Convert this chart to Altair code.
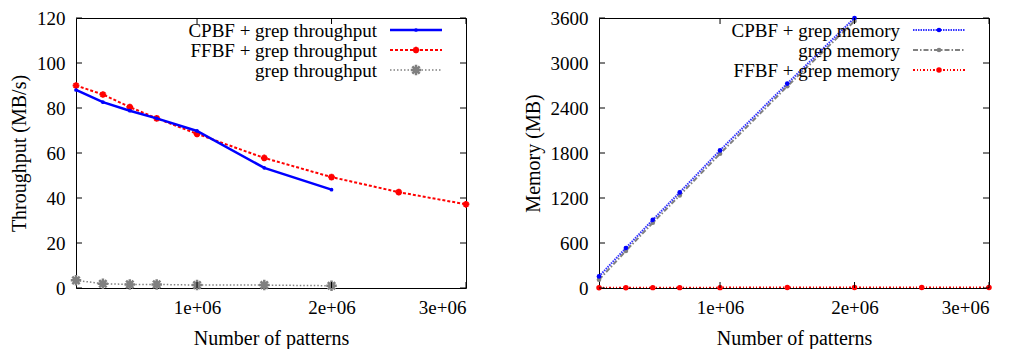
import altair as alt
import pandas as pd

# ---------------- data ----------------
patterns = [100000, 300000, 500000, 700000, 1000000, 1500000, 2000000, 2500000, 3000000]

cpbf_tp = [88.0, 82.6, 78.8, 75.4, 69.8, 53.4, 43.7]
ffbf_tp = [90.0, 86.0, 80.4, 75.4, 68.5, 57.8, 49.3, 42.6, 37.2]
grep_tp = [3.4, 1.9, 1.6, 1.6, 1.3, 1.3, 1.0]

cpbf_mem = [155, 533, 909, 1275, 1835, 2726, 3600]
grep_mem = [110, 495, 870, 1235, 1790, 2690, 3560]
ffbf_mem = [4, 4, 5, 5, 5, 6, 6, 7, 7]

x_ticks = [1000000, 2000000, 3000000]
tp_ticks = [0, 20, 40, 60, 80, 100, 120]
mem_ticks = [0, 600, 1200, 1800, 2400, 3000, 3600]

tp_labels = ["CPBF + grep throughput", "FFBF + grep throughput", "grep throughput"]
mem_labels = ["CPBF + grep memory", "grep memory", "FFBF + grep memory"]

W, H = 390, 270
FONT = "Liberation Serif"
FS_LAB = 19
FS_TITLE = 20
FS_LEG = 19
TICK = 6

ASTER = "M-1,0L1,0M0,-1L0,1M-0.7,-0.7L0.7,0.7M-0.7,0.7L0.7,-0.7"

BLUE = "#0000ff"
RED = "#ff0000"
GREY = "#808080"


def point_kw(st):
    kw = dict(shape=st["shape"], size=st["size"], opacity=1)
    if st["filled"]:
        kw.update(filled=True, color=st["pcolor"])
    else:
        kw.update(filled=False, stroke=st["pcolor"], strokeWidth=st["pw"])
    return kw


def make_panel(series, ydomain, yticks, ytitle):
    xs = alt.Scale(domain=[100000, 3000000], nice=False, zero=False)
    ys = alt.Scale(domain=ydomain, nice=False, zero=False)
    xa = alt.Axis(values=x_ticks, labelExpr="format(datum.value/1000000,'d') + 'e+06'",
                  tickSize=0, domain=False, grid=False, labelPadding=10,
                  title="Number of patterns", titlePadding=11)
    ya = alt.Axis(values=yticks, format="d", tickSize=0, domain=False, grid=False,
                  labelPadding=11, title=ytitle, titlePadding=7)

    def X(f):
        return alt.X(f, type="quantitative", scale=xs, axis=xa)

    def Y(f):
        return alt.Y(f, type="quantitative", scale=ys, axis=ya)

    layers = []
    for vals, st in series:
        df = pd.DataFrame({"x": patterns[:len(vals)], "y": vals})
        line_kw = dict(color=st["color"], strokeWidth=st["lw"], clip=True)
        if st.get("dash"):
            line_kw["strokeDash"] = st["dash"]
        layers.append(alt.Chart(df).mark_line(**line_kw).encode(x=X("x"), y=Y("y")))
        layers.append(alt.Chart(df).mark_point(**point_kw(st)).encode(x=X("x"), y=Y("y")))

    # inward ticks (gnuplot style, mirrored)
    ydf = pd.DataFrame({"v": yticks})
    xdf = pd.DataFrame({"v": x_ticks})
    layers.append(alt.Chart(ydf).mark_rule(color="black", strokeWidth=1).encode(
        y=Y("v"), x=alt.value(0), x2=alt.value(TICK)))
    layers.append(alt.Chart(ydf).mark_rule(color="black", strokeWidth=1).encode(
        y=Y("v"), x=alt.value(W - TICK), x2=alt.value(W)))
    layers.append(alt.Chart(xdf).mark_rule(color="black", strokeWidth=1).encode(
        x=X("v"), y=alt.value(H - TICK), y2=alt.value(H)))
    layers.append(alt.Chart(xdf).mark_rule(color="black", strokeWidth=1).encode(
        x=X("v"), y=alt.value(0), y2=alt.value(TICK)))
    return layers


def legend_layers(entries):
    out = []
    one = pd.DataFrame({"k": [0]})
    for i, (lab, st) in enumerate(entries):
        yy = 12 + 20 * i
        out.append(alt.Chart(one).mark_text(
            text=lab, align="right", baseline="middle", font=FONT, fontSize=FS_LEG, color="black"
        ).encode(x=alt.value(301), y=alt.value(yy + 1)))
        rk = dict(color=st["color"], strokeWidth=st["lw"])
        if st.get("dash"):
            rk["strokeDash"] = st["dash"]
        out.append(alt.Chart(one).mark_rule(**rk).encode(
            x=alt.value(314), x2=alt.value(366), y=alt.value(yy)))
        out.append(alt.Chart(one).mark_point(**point_kw(st)).encode(
            x=alt.value(340), y=alt.value(yy)))
    return out


st_cpbf_tp = dict(color=BLUE, lw=2.5, dash=None, shape="circle", size=14, filled=True, pcolor=BLUE)
st_ffbf_tp = dict(color=RED, lw=2, dash=[3, 2], shape=ASTER, size=45, filled=False, pcolor=RED, pw=2)
st_grep_tp = dict(color=GREY, lw=1.5, dash=[1.5, 2], shape=ASTER, size=110, filled=False, pcolor=GREY, pw=2.5)

st_cpbf_mem = dict(color="#3333ff", lw=2, dash=[1.5, 1], shape="circle", size=22, filled=True, pcolor=BLUE)
st_grep_mem = dict(color=GREY, lw=2, dash=[5, 2, 1.5, 2], shape="circle", size=22, filled=True, pcolor=GREY)
st_ffbf_mem = dict(color=RED, lw=2, dash=[2, 2, 1, 2, 1, 2], shape="circle", size=30, filled=True, pcolor=RED)

left_layers = make_panel(
    [(grep_tp, st_grep_tp), (ffbf_tp, st_ffbf_tp), (cpbf_tp, st_cpbf_tp)],
    [0, 120], tp_ticks, "Throughput (MB/s)")
left_layers += legend_layers([(tp_labels[0], st_cpbf_tp), (tp_labels[1], st_ffbf_tp),
                              (tp_labels[2], st_grep_tp)])

right_layers = make_panel(
    [(grep_mem, st_grep_mem), (cpbf_mem, st_cpbf_mem), (ffbf_mem, st_ffbf_mem)],
    [0, 3600], mem_ticks, "Memory (MB)")
right_layers += legend_layers([(mem_labels[0], st_cpbf_mem), (mem_labels[1], st_grep_mem),
                               (mem_labels[2], st_ffbf_mem)])

left = alt.layer(*left_layers).properties(width=W, height=H)
right = alt.layer(*right_layers).properties(width=W, height=H)

chart = alt.hconcat(left, right, spacing=133, bounds="flush").properties(
    padding={"left": 1, "top": 0, "right": 0, "bottom": 0}
).configure_view(stroke="black", strokeWidth=1).configure_axis(
    labelFont=FONT, labelFontSize=FS_LAB, labelColor="black",
    titleFont=FONT, titleFontSize=FS_TITLE, titleFontWeight="normal", titleColor="black"
)

chart.save("out.html", embed_options={"renderer": "svg", "actions": False})
